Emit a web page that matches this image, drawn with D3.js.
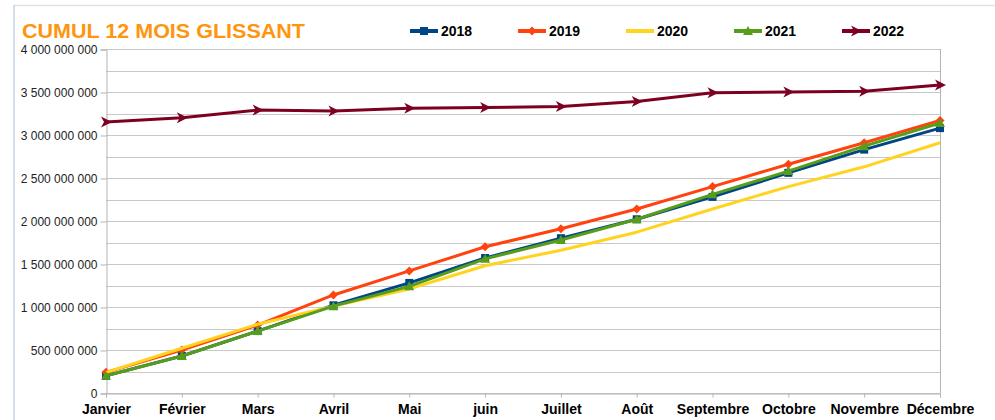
<!DOCTYPE html>
<html>
<head>
<meta charset="utf-8">
<script src="https://cdn.jsdelivr.net/npm/d3@7"></script>
<style>
  body { margin: 0; background: #fff; }
  svg { display: block; font-family: "Liberation Sans", Arial, sans-serif; }
</style>
</head>
<body>
<div id="chart"></div>
<script>
// data
var months = ["Janvier", "Février", "Mars", "Avril", "Mai", "juin", "Juillet", "Août",
  "Septembre", "Octobre", "Novembre", "Décembre"];
var years = ["2018", "2019", "2020", "2021", "2022"];
var v2018 = [0.20e9, 0.43e9, 0.72e9, 1.02e9, 1.28e9, 1.57e9, 1.80e9, 2.02e9, 2.28e9, 2.56e9, 2.83e9, 3.08e9];
var v2019 = [0.24e9, 0.50e9, 0.79e9, 1.14e9, 1.42e9, 1.70e9, 1.91e9, 2.14e9, 2.40e9, 2.66e9, 2.91e9, 3.17e9];
var v2020 = [0.24e9, 0.52e9, 0.80e9, 1.01e9, 1.21e9, 1.48e9, 1.66e9, 1.87e9, 2.14e9, 2.40e9, 2.63e9, 2.91e9];
var v2021 = [0.20e9, 0.43e9, 0.72e9, 1.01e9, 1.24e9, 1.56e9, 1.78e9, 2.02e9, 2.31e9, 2.58e9, 2.87e9, 3.14e9];
var v2022 = [3.15e9, 3.20e9, 3.29e9, 3.28e9, 3.31e9, 3.32e9, 3.33e9, 3.39e9, 3.49e9, 3.50e9, 3.51e9, 3.58e9];
var yTicks = [0, 5e8, 1e9, 1.5e9, 2e9, 2.5e9, 3e9, 3.5e9, 4e9];

var series = [
  { name: years[0], values: v2018, color: "#004586", marker: "square" },
  { name: years[1], values: v2019, color: "#ff420e", marker: "diamond" },
  { name: years[2], values: v2020, color: "#ffd320", marker: null },
  { name: years[3], values: v2021, color: "#579d1c", marker: "triangle" },
  { name: years[4], values: v2022, color: "#7e0021", marker: "right" }
];

var width = 995, height = 420;
// plot area (window.top is taken, so prefixed names)
var plotLeft = 106, plotRight = 940, plotTop = 49, plotBottom = 393;

var svg = d3.select("#chart").append("svg")
  .attr("width", width).attr("height", height);

// outer frame
svg.append("line").attr("x1", 14).attr("x2", width).attr("y1", 5.5).attr("y2", 5.5)
  .attr("stroke", "#dde3ea").attr("stroke-width", 1.5);
svg.append("line").attr("x1", 14).attr("x2", 14).attr("y1", 5).attr("y2", height)
  .attr("stroke", "#c8d4e6").attr("stroke-width", 1.5);

var x = d3.scalePoint().domain(months).range([plotLeft, plotRight]);
var y = d3.scaleLinear().domain([0, 4e9]).range([plotBottom, plotTop]);

// grid lines every 250 000 000
svg.append("g").selectAll("line")
  .data(d3.range(0, 4e9 + 1, 2.5e8))
  .enter().append("line")
  .attr("x1", plotLeft).attr("x2", plotRight)
  .attr("y1", function(d) { return Math.round(y(d)) + 0.5; })
  .attr("y2", function(d) { return Math.round(y(d)) + 0.5; })
  .attr("stroke", "#c8c8c8").attr("stroke-width", 1.2);

// plot frame right side
svg.append("line").attr("x1", plotRight + 0.5).attr("x2", plotRight + 0.5)
  .attr("y1", plotTop).attr("y2", plotBottom)
  .attr("stroke", "#b3b3b3");

// y axis
var fmt = function(d) { return d3.format(",")(d).replace(/,/g, " "); };
var yAxis = svg.append("g")
  .attr("transform", "translate(" + (plotLeft + 0.5) + ",0.5)")
  .call(d3.axisLeft(y).tickValues(yTicks).tickFormat(fmt).tickSize(6).tickPadding(3));
yAxis.select(".domain").attr("stroke", "#b3b3b3");
yAxis.selectAll(".tick line").attr("stroke", "#b3b3b3");
yAxis.selectAll("text").attr("font-size", "12px").attr("fill", "#222")
  .attr("font-family", "Liberation Sans, Arial, sans-serif");

// x axis
var xAxis = svg.append("g")
  .attr("transform", "translate(0," + (plotBottom + 0.5) + ")")
  .call(d3.axisBottom(x).tickSize(4).tickPadding(7));
xAxis.select(".domain").attr("stroke", "#b3b3b3");
xAxis.selectAll(".tick line").attr("stroke", "#b3b3b3");
xAxis.selectAll("text").attr("font-size", "14px").attr("font-weight", "bold").attr("fill", "#000")
  .attr("font-family", "Liberation Sans, Arial, sans-serif");

function markerPath(type) {
  if (type === "square") return "M-4,-4H4V4H-4Z";
  if (type === "diamond") return "M0,-4.5L4.5,0L0,4.5L-4.5,0Z";
  if (type === "triangle") return "M0,-5L5,4H-5Z";
  if (type === "right") return "M6,0L-5,-5.5L-2,0L-5,5.5Z";
  return null;
}

var line = d3.line()
  .x(function(d, i) { return x(months[i]); })
  .y(function(d) { return y(d); });

series.forEach(function(s) {
  var g = svg.append("g");
  g.append("path").datum(s.values)
    .attr("d", line)
    .attr("fill", "none")
    .attr("stroke", s.color)
    .attr("stroke-width", 3)
    .attr("stroke-linejoin", "round");
  if (s.marker) {
    g.selectAll("path.m").data(s.values).enter().append("path")
      .attr("class", "m")
      .attr("d", markerPath(s.marker))
      .attr("transform", function(d, i) { return "translate(" + x(months[i]) + "," + y(d) + ")"; })
      .attr("fill", s.color);
  }
});

// title
svg.append("text")
  .attr("x", 22).attr("y", 38)
  .attr("font-size", "20.5px").attr("font-weight", "bold")
  .attr("fill", "#ff950e")
  .attr("textLength", 283).attr("lengthAdjust", "spacingAndGlyphs")
  .text("CUMUL 12 MOIS GLISSANT");

// legend
var legend = svg.append("g").selectAll("g")
  .data(series).enter().append("g")
  .attr("transform", function(d, i) { return "translate(" + (410 + i * 108) + ",31)"; });
legend.append("line")
  .attr("x1", 0).attr("x2", 28)
  .attr("stroke", function(d) { return d.color; })
  .attr("stroke-width", 4);
legend.filter(function(d) { return d.marker; }).append("path")
  .attr("d", function(d) { return markerPath(d.marker); })
  .attr("transform", "translate(14,0)")
  .attr("fill", function(d) { return d.color; });
legend.append("text")
  .attr("x", 31).attr("y", 5)
  .attr("font-size", "14px").attr("font-weight", "bold").attr("fill", "#000")
  .text(function(d) { return d.name; });
</script>
</body>
</html>
